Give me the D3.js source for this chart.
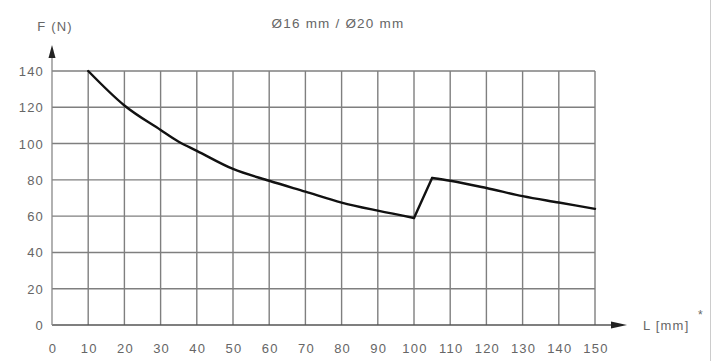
<!DOCTYPE html>
<html><head><meta charset="utf-8">
<script src="https://cdn.jsdelivr.net/npm/d3@7"></script>
<style>body{margin:0;background:#fff;}svg{display:block;font-family:"Liberation Sans",Arial,sans-serif;}</style>
</head><body><svg id="c" width="718" height="361"></svg>
<script>
const lengthsA = [10,20,30,35,40,50,60,70,80,90,100];
const forcesA  = [140,121,107.5,101,96,86,79.5,73.5,67.5,63,59];
const lengthsB = [105,110,120,130,140,150];
const forcesB  = [81,79.5,75.5,71,67.5,64];
const xTicks = [0,10,20,30,40,50,60,70,80,90,100,110,120,130,140,150];
const yTicks = [0,20,40,60,80,100,120,140];
const title = "Ø16 mm / Ø20 mm";
const yLabel = "F (N)";
const xLabel = "L [mm]";

const svg = d3.select("#c");
const x = d3.scaleLinear().domain([0,150]).range([52,595]);
const y = d3.scaleLinear().domain([0,140]).range([325,71]);
const grid = "#7f7f7f", txt = "#666";

// right border
svg.append("line").attr("x1",710.5).attr("x2",710.5).attr("y1",0).attr("y2",361).attr("stroke","#ccc");

// grid
svg.append("g").selectAll("line").data(xTicks.filter(d=>d>0)).join("line")
  .attr("x1",d=>x(d)).attr("x2",d=>x(d)).attr("y1",y(0)).attr("y2",y(140))
  .attr("stroke",grid).attr("stroke-width",1.4);
svg.append("g").selectAll("line").data(yTicks.filter(d=>d>0)).join("line")
  .attr("x1",x(0)).attr("x2",x(150)).attr("y1",d=>y(d)).attr("y2",d=>y(d))
  .attr("stroke",grid).attr("stroke-width",1.4);

// axes with arrows
svg.append("line").attr("x1",x(0)).attr("x2",618).attr("y1",y(0)).attr("y2",y(0)).attr("stroke","#555").attr("stroke-width",1.3);
svg.append("path").attr("d",`M627,${y(0)} L611,${y(0)-3.5} L611,${y(0)+3.5}Z`).attr("fill","#222");
svg.append("line").attr("x1",x(0)).attr("x2",x(0)).attr("y1",y(0)).attr("y2",56).attr("stroke","#888").attr("stroke-width",1.3);
svg.append("path").attr("d",`M${x(0)},45 L${x(0)-3.5},58 L${x(0)+3.5},58Z`).attr("fill","#222");

const T = (sel)=>sel.attr("font-size",13).attr("letter-spacing",1.2).attr("fill",txt);

// tick labels
svg.append("g").selectAll("text").data(yTicks).join("text")
  .attr("x",44).attr("y",d=>y(d)+5).attr("text-anchor","end").call(T).text(d=>d);
svg.append("g").selectAll("text").data(xTicks).join("text")
  .attr("x",d=>x(d)+1).attr("y",353).attr("text-anchor","middle").call(T).text(d=>d);

// labels
svg.append("text").attr("x",55).attr("y",31).attr("text-anchor","middle").call(T).text(yLabel);
svg.append("text").attr("x",338).attr("y",28).attr("text-anchor","middle").call(T).attr("font-size",13.5).text(title);
svg.append("text").attr("x",643).attr("y",330).call(T).text(xLabel);
svg.append("text").attr("x",698).attr("y",319).attr("font-size",12).attr("fill",txt).text("*");

// curve
const line = d3.line().x(d=>x(d[0])).y(d=>y(d[1]));
const segA = lengthsA.map((l,i)=>[l,forcesA[i]]);
const segB = lengthsB.map((l,i)=>[l,forcesB[i]]);
const style = s=>s.attr("fill","none").attr("stroke","#111").attr("stroke-width",2.4).attr("stroke-linejoin","round").attr("stroke-linecap","round");
svg.append("path").datum(segA).attr("d",line.curve(d3.curveMonotoneX)).call(style);
svg.append("path").datum(segB).attr("d",line.curve(d3.curveMonotoneX)).call(style);
svg.append("path").datum([segA[segA.length-1],segB[0]]).attr("d",d3.line().x(d=>x(d[0])).y(d=>y(d[1]))).call(style);
</script></body></html>
